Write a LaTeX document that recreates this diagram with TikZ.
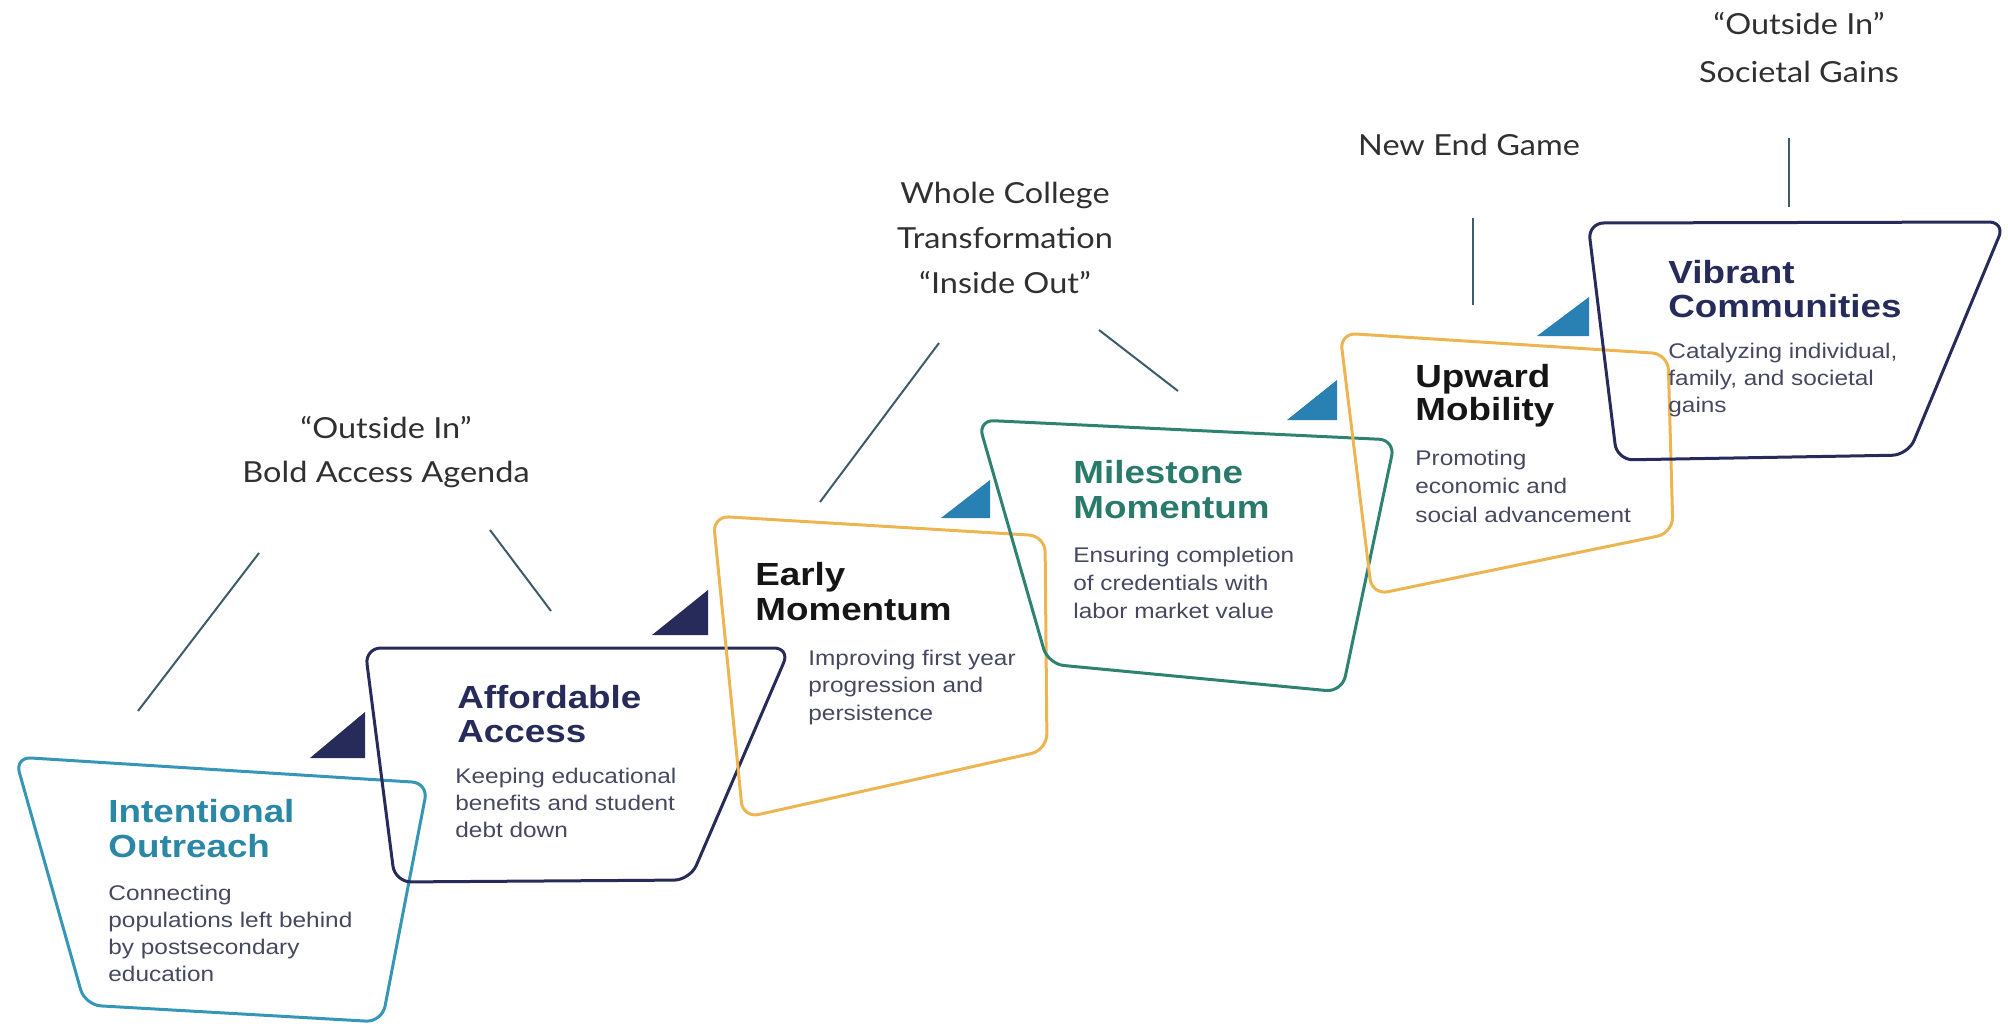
\documentclass[tikz,border=0pt]{standalone}
\usepackage{fontspec}
\newfontfamily\boxfont[FakeStretch=1.15]{Liberation Sans}
\newfontfamily\lblfont[FakeStretch=1.12]{Lato}
\definecolor{cOut}{HTML}{3596B8}
\definecolor{hOut}{HTML}{2B87A6}
\definecolor{cNavy}{HTML}{262B5A}
\definecolor{cGold}{HTML}{EDB552}
\definecolor{cGreen}{HTML}{2E8272}
\definecolor{hGreen}{HTML}{2A7A6C}
\definecolor{cTri}{HTML}{2980B2}
\definecolor{cBody}{HTML}{45485F}
\definecolor{cDark}{HTML}{151515}
\definecolor{cLbl}{HTML}{303030}
\definecolor{cLead}{HTML}{3D5B68}
\begin{document}
\begin{tikzpicture}[x=0.5pt,y=-0.5pt,
  card/.style={line width=1.5pt, rounded corners=8pt, draw=#1},
  tri/.style={fill=#1, draw=none},
  leader/.style={draw=cLead, line width=1pt},
  hd/.style={font=\boxfont\bfseries\fontsize{16pt}{17.5pt}\selectfont, anchor=base west, inner sep=0pt, text=#1},
  bd/.style={font=\boxfont\fontsize{10.6pt}{13.5pt}\selectfont, anchor=base west, inner sep=0pt, text=cBody},
  lbl/.style={font=\lblfont\fontsize{14.5pt}{22pt}\selectfont, anchor=base, inner sep=0pt, text=cLbl}]
\useasboundingbox (0,0) rectangle (2008,1028);

% cards
\draw[card=cOut]   (15,757) -- (428,783) -- (382,1022) -- (85,1005) -- cycle;
\draw[card=cNavy]  (365,648) -- (790,648) -- (690,880) -- (395,882) -- cycle;
\draw[card=cGold]  (713,516) -- (1045,536) -- (1047,750) -- (743,818) -- cycle;
\draw[card=cGreen] (978,420) -- (1395,440) -- (1342,692) -- (1048,664) -- cycle;
\draw[card=cGold]  (1340,333) -- (1668,354) -- (1673,533) -- (1372,595) -- cycle;
\draw[card=cNavy]  (1588,223) -- (2005,222) -- (1908,455) -- (1617,460) -- cycle;

% triangles
\fill[tri=cNavy] (310,758) -- (365,712) -- (365,758) -- cycle;
\fill[tri=cNavy] (652,635) -- (708,590) -- (708,635) -- cycle;
\fill[tri=cTri]  (941,518) -- (990,480) -- (990,518) -- cycle;
\fill[tri=cTri]  (1287,420) -- (1337,380) -- (1337,420) -- cycle;
\fill[tri=cTri]  (1537,336) -- (1589,297) -- (1589,336) -- cycle;

% card texts
\node[hd=hOut] (o1) at (108,822) {Intentional};
\node[hd=hOut] (o2) at (108,857) {Outreach};
\node[bd] (ob1) at (108,900) {Connecting};
\node[bd] (ob2) at (108,927) {populations left behind};
\node[bd] (ob3) at (108,954) {by postsecondary};
\node[bd] (ob4) at (108,981) {education};

\node[hd=cNavy] (a1) at (457,708) {Affordable};
\node[hd=cNavy] (a2) at (457,742) {Access};
\node[bd] (ab1) at (455,783) {Keeping educational};
\node[bd] (ab2) at (455,810) {benefits and student};
\node[bd] (ab3) at (455,837) {debt down};

\node[hd=cDark] (e1) at (755,585) {Early};
\node[hd=cDark] (e2) at (755,620) {Momentum};
\node[bd] (eb1) at (808,665) {Improving first year};
\node[bd] (eb2) at (808,692) {progression and};
\node[bd] (eb3) at (808,720) {persistence};

\node[hd=hGreen] (m1) at (1073,483) {Milestone};
\node[hd=hGreen] (m2) at (1073,518) {Momentum};
\node[bd] (mb1) at (1073,562) {Ensuring completion};
\node[bd] (mb2) at (1073,590) {of credentials with};
\node[bd] (mb3) at (1073,618) {labor market value};

\node[hd=cDark] (u1) at (1415,387) {Upward};
\node[hd=cDark] (u2) at (1415,420) {Mobility};
\node[bd] (ub1) at (1415,465) {Promoting};
\node[bd] (ub2) at (1415,493) {economic and};
\node[bd] (ub3) at (1415,522) {social advancement};

\node[hd=cNavy] (v1) at (1668,283) {Vibrant};
\node[hd=cNavy] (v2) at (1668,317) {Communities};
\node[bd] (vb1) at (1668,358) {Catalyzing individual,};
\node[bd] (vb2) at (1668,385) {family, and societal};
\node[bd] (vb3) at (1668,412) {gains};

% labels
\node[lbl] (la1) at (386,438) {“Outside In”};
\node[lbl] (la2) at (386,482) {Bold Access Agenda};
\node[lbl] (lb1) at (1005,203) {Whole College};
\node[lbl] (lb2) at (1005,248) {Transformation};
\node[lbl] (lb3) at (1005,293) {“Inside Out”};
\node[lbl] (lc1) at (1469,155) {New End Game};
\node[lbl] (ld1) at (1799,34) {“Outside In”};
\node[lbl] (ld2) at (1799,82) {Societal Gains};

% leader lines
\coordinate (p1a) at (138,711);  \coordinate (p1b) at (259,553);
\coordinate (p2a) at (490,530);  \coordinate (p2b) at (551,611);
\coordinate (p3a) at (820,502);  \coordinate (p3b) at (939,343);
\coordinate (p4a) at (1099,330); \coordinate (p4b) at (1178,391);
\coordinate (p5a) at (1473,218); \coordinate (p5b) at (1473,305);
\coordinate (p6a) at (1789,138); \coordinate (p6b) at (1789,207);
\draw[leader] (p1a) -- (p1b);
\draw[leader] (p2a) -- (p2b);
\draw[leader] (p3a) -- (p3b);
\draw[leader] (p4a) -- (p4b);
\draw[leader] (p5a) -- (p5b);
\draw[leader] (p6a) -- (p6b);
\end{tikzpicture}
\end{document}
